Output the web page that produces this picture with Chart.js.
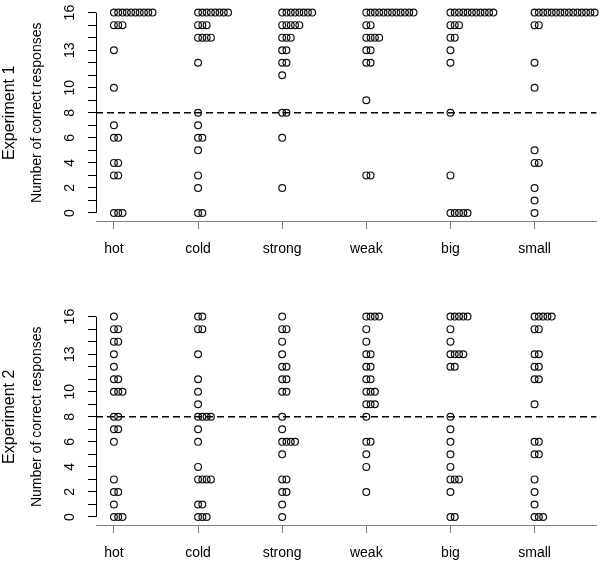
<!DOCTYPE html>
<html>
<head>
<meta charset="utf-8">
<script src="https://cdn.jsdelivr.net/npm/chart.js@4.4.1/dist/chart.umd.min.js"></script>
<style>
  body { margin: 0; background: #fff; width: 601px; height: 564px; position: relative; overflow: hidden; }
  canvas { position: absolute; left: 0; }
  #exp1Chart { top: 0; }
  #exp2Chart { top: 304px; }
</style>
</head>
<body>
<canvas id="exp1Chart" width="601" height="260"></canvas>
<canvas id="exp2Chart" width="601" height="260"></canvas>
<script>
const categories = ['hot', 'cold', 'strong', 'weak', 'big', 'small'];
const yTickValues = [0, 1, 2, 3, 4, 5, 6, 7, 8, 9, 10, 11, 12, 13, 14, 15, 16];
const yTickLabels = [0, 2, 4, 6, 8, 10, 13, 16];
const chanceLevel = 8;

// scores reached in each condition, and how many participants reached them
const exp1Scores = [
  [16, 15, 13, 10, 7, 6, 4, 3, 0],
  [16, 15, 14, 12, 8, 7, 6, 5, 3, 2, 0],
  [16, 15, 14, 13, 12, 11, 8, 6, 2],
  [16, 15, 14, 13, 12, 9, 3],
  [16, 15, 14, 13, 12, 8, 3, 0],
  [16, 15, 12, 10, 5, 4, 2, 1, 0]
];
const exp1Counts = [
  [10, 3, 1, 1, 1, 2, 2, 2, 3],
  [8, 3, 4, 1, 1, 1, 2, 1, 1, 1, 2],
  [8, 5, 3, 2, 2, 1, 2, 1, 1],
  [12, 2, 4, 2, 2, 1, 2],
  [11, 3, 2, 1, 1, 1, 1, 5],
  [15, 2, 1, 1, 1, 2, 1, 1, 1]
];

const exp2Scores = [
  [16, 15, 14, 13, 12, 11, 10, 8, 7, 6, 3, 2, 1, 0],
  [16, 15, 13, 11, 10, 9, 8, 7, 6, 4, 3, 1, 0],
  [16, 15, 14, 13, 12, 11, 10, 8, 7, 6, 5, 3, 2, 1, 0],
  [16, 15, 14, 13, 12, 11, 10, 9, 8, 6, 5, 4, 2],
  [16, 15, 14, 13, 12, 8, 7, 6, 5, 4, 3, 2, 0],
  [16, 15, 13, 12, 11, 9, 6, 5, 3, 2, 1, 0]
];
const exp2Counts = [
  [1, 2, 2, 1, 1, 2, 3, 2, 2, 1, 1, 2, 1, 3],
  [2, 2, 1, 1, 1, 1, 4, 1, 1, 1, 4, 2, 3],
  [1, 2, 1, 1, 2, 2, 2, 1, 1, 4, 1, 2, 2, 1, 1],
  [4, 1, 1, 2, 2, 2, 3, 3, 1, 2, 1, 1, 1],
  [5, 1, 1, 4, 2, 1, 1, 1, 1, 1, 3, 1, 2],
  [5, 2, 2, 2, 2, 1, 2, 2, 1, 1, 1, 3]
];

const xMin = 0.787;
const xMax = 6.735;
const stackStep = 0.051;
const fontFamily = "'Liberation Sans', Arial, sans-serif";

// stripchart "stack": tied scores are pushed to the right of the category
function stackPoints(scores, counts) {
  const points = [];
  scores.forEach((group, i) => {
    group.forEach((score, j) => {
      for (let k = 0; k < counts[i][j]; k++) {
        points.push({ x: i + 1 + k * stackStep, y: score });
      }
    });
  });
  return points;
}

const yAxisLine = {
  id: 'yAxisLine',
  afterDraw(chart) {
    const yScale = chart.scales.y;
    const ctx = chart.ctx;
    const x = Math.round(chart.chartArea.left) + 0.5;
    ctx.save();
    ctx.strokeStyle = '#000';
    ctx.lineWidth = 1;
    ctx.beginPath();
    ctx.moveTo(x, yScale.getPixelForValue(yTickValues[0]));
    ctx.lineTo(x, yScale.getPixelForValue(yTickValues[yTickValues.length - 1]));
    ctx.stroke();
    ctx.restore();
  }
};

function makeChart(canvasId, titleText, scores, counts) {
  return new Chart(document.getElementById(canvasId), {
    type: 'scatter',
    data: {
      datasets: [
        {
          data: [{ x: xMin, y: chanceLevel }, { x: xMax, y: chanceLevel }],
          showLine: true,
          borderColor: '#000',
          borderWidth: 1.6,
          borderDash: [7, 4],
          pointRadius: 0,
          clip: false
        },
        {
          data: stackPoints(scores, counts),
          pointRadius: 3.4,
          pointHoverRadius: 3.4,
          pointBorderWidth: 1.2,
          borderColor: '#111',
          backgroundColor: 'rgba(0,0,0,0)',
          clip: false
        }
      ]
    },
    options: {
      responsive: false,
      animation: false,
      events: [],
      layout: { padding: { top: 3, right: 3, left: 0, bottom: 0 } },
      plugins: {
        legend: { display: false },
        tooltip: { enabled: false },
        title: {
          display: true,
          text: titleText,
          position: 'left',
          fullSize: false,
          color: '#000',
          font: { family: fontFamily, size: 16, weight: 'normal' },
          padding: { top: 0, bottom: 8 }
        }
      },
      scales: {
        x: {
          type: 'linear',
          min: xMin,
          max: xMax,
          afterBuildTicks: s => { s.ticks = categories.map((c, i) => ({ value: i + 1 })); },
          afterFit: s => { s.height = 39; s.paddingLeft = 0; s.paddingRight = 0; },
          grid: { drawOnChartArea: false, drawTicks: true, tickLength: 8, color: '#808080' },
          border: { display: true, color: '#808080', width: 1 },
          ticks: {
            callback: v => categories[v - 1],
            autoSkip: false,
            maxRotation: 0,
            padding: 12,
            color: '#000',
            font: { family: fontFamily, size: 14 }
          }
        },
        y: {
          min: -0.64,
          max: 16.64,
          afterBuildTicks: s => { s.ticks = yTickValues.map(v => ({ value: v })); },
          afterFit: s => { s.width = 68.8; s.paddingTop = 0; s.paddingBottom = 0; },
          grid: { drawOnChartArea: false, drawTicks: true, tickLength: 8, color: '#000' },
          border: { display: false },
          ticks: {
            callback: v => (yTickLabels.includes(v) ? String(v) : ''),
            autoSkip: false,
            minRotation: 90,
            maxRotation: 90,
            crossAlign: 'center',
            padding: 10,
            color: '#000',
            font: { family: fontFamily, size: 14 }
          },
          title: {
            display: true,
            text: 'Number of correct responses',
            color: '#000',
            font: { family: fontFamily, size: 14 },
            padding: { top: 1.4, bottom: 0 }
          }
        }
      }
    },
    plugins: [yAxisLine]
  });
}

makeChart('exp1Chart', 'Experiment 1', exp1Scores, exp1Counts);
makeChart('exp2Chart', 'Experiment 2', exp2Scores, exp2Counts);
</script>
</body>
</html>
